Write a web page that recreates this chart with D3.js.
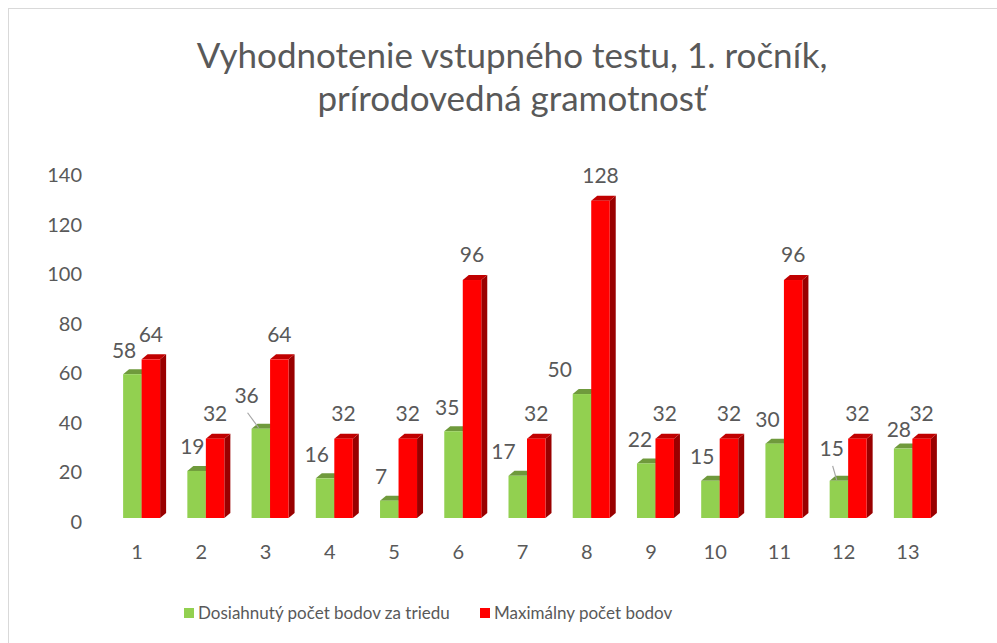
<!DOCTYPE html>
<html>
<head>
<meta charset="utf-8">
<script src="https://cdn.jsdelivr.net/npm/d3@7"></script>
<style>
  body { margin: 0; background: #fff; }
  text { font-family: Lato, "Open Sans", sans-serif; fill: #595959; }
</style>
</head>
<body>
<div id="chart"></div>
<script>
// Chart data
const categories = ['1', '2', '3', '4', '5', '6', '7', '8', '9', '10', '11', '12', '13'];
const achieved = [58, 19, 36, 16, 7, 35, 17, 50, 22, 15, 30, 15, 28];
const maximum = [64, 32, 64, 32, 32, 96, 32, 128, 32, 32, 96, 32, 32];
const yTicks = [0, 20, 40, 60, 80, 100, 120, 140];
const titleLines = ['Vyhodnotenie vstupného testu, 1. ročník,', 'prírodovedná gramotnosť'];
const seriesNames = ['Dosiahnutý počet bodov za triedu', 'Maximálny počet bodov'];

// Some green labels sit off their default spot in the original (dx, dy, leader line)
const greenLabelNudge = {
    1: [4, 0], 2: [-6, -9, true], 5: [2, 0], 6: [-6, 0], 7: [-14, 0],
    8: [2, 0], 10: [1, 0], 11: [1, -8, true], 12: [4, 5]
};

const width = 997, height = 643;
const depthX = 6, depthY = 5;

const svg = d3.select('#chart')
    .append('svg')
    .attr('width', width)
    .attr('height', height);

// Chart area border
svg.append('rect')
    .attr('x', 8.5).attr('y', 8.5)
    .attr('width', 1000).attr('height', 660)
    .attr('fill', '#fff')
    .attr('stroke', '#d9d9d9');

// Title
svg.append('text')
    .attr('x', 512).attr('y', 68)
    .attr('text-anchor', 'middle')
    .style('font-size', '35px')
    .selectAll('tspan')
    .data(titleLines)
    .join('tspan')
    .attr('x', 512)
    .attr('dy', (d, i) => i === 0 ? 0 : 43)
    .text(d => d);

const x = d3.scaleBand().domain(categories).range([105, 940]);
const y = d3.scaleLinear().domain([0, 140]).range([518, 518 - 140 * 2.479]);
const barW = 18.5;

// Y tick labels (no axis line)
svg.append('g')
    .selectAll('text')
    .data(yTicks)
    .join('text')
    .attr('x', 82)
    .attr('y', d => y(d) + 4)
    .attr('dy', '0.35em')
    .attr('text-anchor', 'end')
    .style('font-size', '20px')
    .text(d => d);

// X tick labels
svg.append('g')
    .selectAll('text')
    .data(categories)
    .join('text')
    .attr('x', d => x(d) + x.bandwidth() / 2)
    .attr('y', 552)
    .attr('dy', '0.35em')
    .attr('text-anchor', 'middle')
    .style('font-size', '20px')
    .text(d => d);

/**
 * Draw one 3D column: front face, top cap and right side.
 */
function drawColumn(g, x0, value, colors) {
    const x1 = x0 + barW;
    const yt = y(value), yb = y(0);
    g.append('path')
        .attr('d', `M${x1},${yb}L${x1 + depthX},${yb - depthY}L${x1 + depthX},${yt - depthY}L${x1},${yt}Z`)
        .attr('fill', colors.side);
    g.append('path')
        .attr('d', `M${x0},${yt}L${x0 + depthX},${yt - depthY}L${x1 + depthX},${yt - depthY}L${x1},${yt}Z`)
        .attr('fill', colors.top);
    g.append('rect')
        .attr('x', x0).attr('y', yt)
        .attr('width', barW).attr('height', yb - yt)
        .attr('fill', colors.front);
}

const greenColors = { front: '#92d050', top: '#6f9a3c', side: '#5f8a30' };
const redColors = { front: '#ff0000', top: '#c00000', side: '#990000' };

const bars = svg.append('g');
categories.forEach((c, i) => {
    const gx = x(c) + x.bandwidth() / 2 - 14;
    const g = bars.append('g');
    drawColumn(g, gx, achieved[i], greenColors);
    drawColumn(g, gx + barW, maximum[i], redColors);
});

// Data labels
const labels = svg.append('g').style('font-size', '21px');
categories.forEach((c, i) => {
    const gx = x(c) + x.bandwidth() / 2 - 14;
    const nudge = greenLabelNudge[i] || [0, 0];
    const lx = gx + 1 + nudge[0];
    const ly = y(achieved[i]) - 24 + nudge[1];
    if (nudge[2]) {
        labels.append('line')
            .attr('x1', lx + 1).attr('y1', ly + 17)
            .attr('x2', gx + 7).attr('y2', y(achieved[i]) - 1)
            .attr('stroke', '#a6a6a6')
            .attr('stroke-width', 1.2);
    }
    labels.append('text')
        .attr('x', lx)
        .attr('y', ly)
        .attr('dy', '0.35em')
        .attr('text-anchor', 'middle')
        .text(achieved[i]);
    labels.append('text')
        .attr('x', gx + barW * 1.5)
        .attr('y', y(maximum[i]) - 25)
        .attr('dy', '0.35em')
        .attr('text-anchor', 'middle')
        .text(maximum[i]);
});

// Legend
const legend = svg.append('g').style('font-size', '17px');
const legendItems = [
    { name: seriesNames[0], color: '#92d050', x: 184 },
    { name: seriesNames[1], color: '#ff0000', x: 480 }
];
legendItems.forEach(item => {
    legend.append('rect')
        .attr('x', item.x).attr('y', 608)
        .attr('width', 10).attr('height', 10)
        .attr('fill', item.color);
    legend.append('text')
        .attr('x', item.x + 14)
        .attr('y', 613)
        .attr('dy', '0.35em')
        .text(item.name);
});
</script>
</body>
</html>
